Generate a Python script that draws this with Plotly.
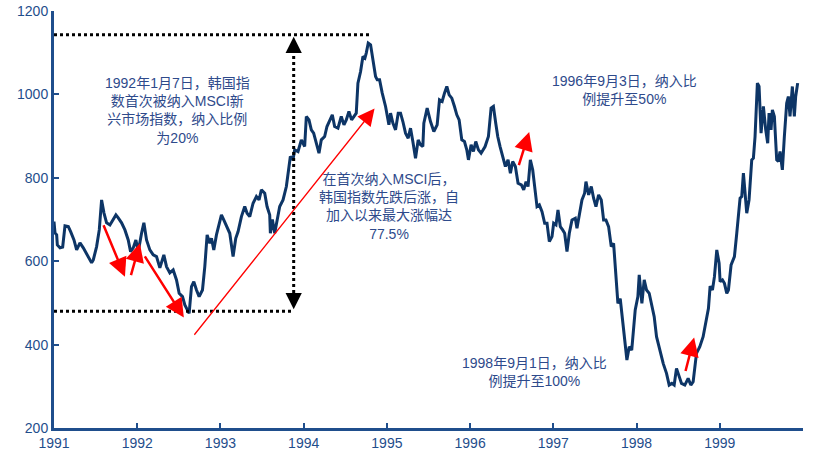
import plotly.graph_objects as go

# KOSPI (decimal year, index level)
years = [
    1991.0, 1991.012, 1991.032, 1991.04, 1991.072, 1991.104, 1991.132, 1991.172, 1991.2, 1991.24,
    1991.272, 1991.312, 1991.352, 1991.384, 1991.412, 1991.452, 1991.472, 1991.512, 1991.544, 1991.572,
    1991.6, 1991.632, 1991.672, 1991.712, 1991.744, 1991.772, 1991.812, 1991.852, 1991.892, 1991.92,
    1991.952, 1991.984, 1992.012, 1992.052, 1992.08, 1992.112, 1992.152, 1992.192, 1992.232, 1992.272,
    1992.32, 1992.352, 1992.392, 1992.432, 1992.472, 1992.504, 1992.544, 1992.572, 1992.6, 1992.624,
    1992.652, 1992.68, 1992.712, 1992.744, 1992.784, 1992.812, 1992.84, 1992.872, 1992.892, 1992.92,
    1992.952, 1992.984, 1993.012, 1993.04, 1993.072, 1993.112, 1993.152, 1993.184, 1993.212, 1993.252,
    1993.292, 1993.32, 1993.352, 1993.392, 1993.432, 1993.464, 1993.492, 1993.532, 1993.56, 1993.592,
    1993.6, 1993.624, 1993.652, 1993.672, 1993.68, 1993.712, 1993.752, 1993.792, 1993.824, 1993.84,
    1993.872, 1993.892, 1993.932, 1993.972, 1994.012, 1994.032, 1994.064, 1994.092, 1994.12, 1994.152,
    1994.184, 1994.212, 1994.252, 1994.28, 1994.312, 1994.344, 1994.372, 1994.412, 1994.452, 1994.484,
    1994.512, 1994.544, 1994.576, 1994.604, 1994.632, 1994.652, 1994.684, 1994.712, 1994.736, 1994.752,
    1994.776, 1994.804, 1994.824, 1994.864, 1994.884, 1994.912, 1994.944, 1994.984, 1995.024, 1995.044,
    1995.072, 1995.104, 1995.136, 1995.164, 1995.192, 1995.224, 1995.256, 1995.284, 1995.312, 1995.344,
    1995.376, 1995.404, 1995.432, 1995.444, 1995.484, 1995.524, 1995.564, 1995.604, 1995.632, 1995.664,
    1995.692, 1995.72, 1995.748, 1995.78, 1995.812, 1995.84, 1995.868, 1995.9, 1995.932, 1995.96,
    1995.98, 1996.012, 1996.04, 1996.068, 1996.1, 1996.132, 1996.18, 1996.22, 1996.252, 1996.28,
    1996.308, 1996.332, 1996.36, 1996.392, 1996.424, 1996.456, 1996.484, 1996.512, 1996.544, 1996.576,
    1996.616, 1996.644, 1996.672, 1996.696, 1996.724, 1996.752, 1996.776, 1996.804, 1996.832, 1996.864,
    1996.896, 1996.924, 1996.952, 1996.984, 1997.004, 1997.032, 1997.056, 1997.084, 1997.112, 1997.136,
    1997.164, 1997.192, 1997.224, 1997.264, 1997.284, 1997.312, 1997.344, 1997.376, 1997.392, 1997.424,
    1997.456, 1997.484, 1997.512, 1997.544, 1997.576, 1997.604, 1997.632, 1997.664, 1997.696, 1997.724,
    1997.752, 1997.776, 1997.804, 1997.832, 1997.856, 1997.884, 1997.912, 1997.942, 1997.984, 1998.016,
    1998.032, 1998.064, 1998.092, 1998.12, 1998.152, 1998.184, 1998.212, 1998.24, 1998.28, 1998.32,
    1998.36, 1998.392, 1998.424, 1998.452, 1998.48, 1998.508, 1998.54, 1998.58, 1998.62, 1998.652,
    1998.68, 1998.72, 1998.76, 1998.8, 1998.832, 1998.864, 1998.884, 1998.912, 1998.936, 1998.964,
    1998.992, 1999.004, 1999.032, 1999.056, 1999.084, 1999.104, 1999.136, 1999.176, 1999.204, 1999.244,
    1999.264, 1999.284, 1999.304, 1999.324, 1999.352, 1999.384, 1999.404, 1999.424, 1999.452, 1999.472,
    1999.496, 1999.524, 1999.552, 1999.576, 1999.592, 1999.616, 1999.632, 1999.656, 1999.684, 1999.704,
    1999.724, 1999.752, 1999.776, 1999.804, 1999.824, 1999.844, 1999.872, 1999.896, 1999.912, 1999.936,
]
kospi = [
    695, 668, 663, 639, 632, 634, 685, 683, 671, 651,
    627, 644, 632, 620, 611, 596, 603, 635, 675, 747,
    716, 692, 687, 699, 711, 704, 692, 675, 651, 623,
    632, 651, 623, 667, 692, 651, 627, 615, 611, 584,
    615, 587, 572, 579, 555, 523, 515, 495, 483, 475,
    539, 551, 531, 515, 531, 587, 663, 643, 655, 627,
    663, 687, 711, 699, 683, 667, 611, 655, 671, 707,
    731, 715, 707, 739, 755, 747, 771, 763, 731, 711,
    667, 700, 667, 691, 700, 731, 747, 779, 827, 851,
    843, 867, 863, 891, 875, 947, 939, 915, 907, 883,
    859, 891, 899, 923, 939, 951, 923, 919, 947, 927,
    939, 959, 939, 947, 955, 1027, 1055, 1091, 1087, 1099,
    1123, 1119, 1095, 1043, 1035, 1035, 1003, 971, 927, 955,
    931, 915, 955, 955, 935, 907, 895, 919, 887, 847,
    891, 879, 875, 931, 967, 935, 911, 927, 987, 983,
    1003, 1019, 999, 991, 971, 951, 939, 891, 887, 867,
    843, 879, 863, 887, 867, 859, 875, 899, 967, 971,
    931, 899, 875, 851, 827, 843, 811, 839, 827, 787,
    783, 771, 791, 779, 843, 819, 779, 731, 735, 719,
    691, 691, 647, 659, 691, 687, 723, 683, 675, 667,
    623, 667, 699, 703, 679, 707, 747, 763, 791, 759,
    779, 751, 731, 759, 747, 699, 699, 683, 635, 643,
    571, 499, 510, 463, 411, 363, 395, 387, 483, 515,
    567, 499, 555, 531, 523, 491, 467, 419, 387, 355,
    331, 303, 307, 303, 343, 327, 307, 303, 319, 303,
    311, 379, 395, 419, 455, 487, 540, 531, 563, 627,
    595, 551, 555, 547, 523, 531, 591, 611, 667, 751,
    755, 811, 763, 715, 747, 843, 847, 899, 1027, 1019,
    907, 971, 915, 883, 955, 915, 963, 947, 843, 839,
    863, 819, 899, 979, 995, 947, 1019, 947, 995, 1027,
]

tick_years = [1991, 1992, 1993, 1994, 1995, 1996, 1997, 1998, 1999]
y_ticks = [200, 400, 600, 800, 1000, 1200]

peak_level = 1143
low_level = 480
measure_x = 1993.88

axis_blue = "#1F4E8C"
text_blue = "#2E4A8B"
navy = "#0D3566"
font_cn = "Liberation Sans, Noto Sans CJK SC, sans-serif"

fig = go.Figure()
fig.add_trace(go.Scatter(x=years, y=kospi, mode="lines",
                         line=dict(color=navy, width=3), showlegend=False,
                         hoverinfo="skip"))

# dotted guide lines
fig.add_shape(type="line", x0=1991, x1=1994.79, y0=peak_level, y1=peak_level,
              line=dict(color="black", width=3, dash="dot"))
fig.add_shape(type="line", x0=1991, x1=measure_x, y0=low_level, y1=low_level,
              line=dict(color="black", width=3, dash="dot"))
fig.add_shape(type="line", x0=measure_x, x1=measure_x, y0=low_level + 15, y1=peak_level - 15,
              line=dict(color="black", width=3, dash="dot"))

annos = []
# black arrowheads on the measuring line
for tip, tail in [(peak_level - 5, peak_level - 45), (low_level + 5, low_level + 45)]:
    annos.append(dict(x=measure_x, y=tip, ax=measure_x, ay=tail, axref="x", ayref="y",
                      xref="x", yref="y", text="", showarrow=True, arrowhead=2,
                      arrowsize=1.3, arrowwidth=2.5, arrowcolor="black", standoff=0))

# red arrows (tail -> head)
red_arrows = [
    ((1991.588, 690), (1991.852, 563), 2.5),
    ((1991.92, 563), (1992.032, 643), 2.5),
    ((1992.08, 615), (1992.56, 465), 2.5),
    ((1992.672, 420), (1994.852, 966), 1.3),
    ((1996.58, 827), (1996.71, 910), 2.5),
    ((1998.584, 333), (1998.692, 417), 2.5),
]
for (tx, ty), (hx, hy), w in red_arrows:
    annos.append(dict(x=hx, y=hy, ax=tx, ay=ty, axref="x", ayref="y", xref="x", yref="y",
                      text="", showarrow=True, arrowhead=2,
                      arrowsize=2.6 if w < 2 else 1.5, arrowwidth=w,
                      arrowcolor="#FF0000", standoff=0))

notes = [
    (1992.48, 962, "1992年1月7日，韩国指<br>数首次被纳入MSCI新<br>兴市场指数，纳入比例<br>为20%"),
    (1995.03, 730, "在首次纳入MSCI后，<br>韩国指数先跌后涨，自<br>加入以来最大涨幅达<br>77.5%"),
    (1997.85, 1010, "1996年9月3日，纳入比<br>例提升至50%"),
    (1996.77, 335, "1998年9月1日，纳入比<br>例提升至100%"),
]
for nx, ny, txt in notes:
    annos.append(dict(x=nx, y=ny, xref="x", yref="y", text=txt, showarrow=False,
                      align="center", font=dict(family=font_cn, size=14, color=text_blue)))

fig.update_layout(
    width=828, height=458,
    margin=dict(l=54, r=25, t=11, b=30),
    paper_bgcolor="white", plot_bgcolor="white",
    annotations=annos,
    xaxis=dict(range=[1991, 2000], tickvals=tick_years, ticktext=[str(t) for t in tick_years],
               automargin=False,
               showgrid=False, zeroline=False, showline=True, linecolor=axis_blue, linewidth=3,
               ticks="inside", ticklen=5, tickwidth=2, tickcolor=axis_blue,
               tickfont=dict(family="Liberation Sans, Arial", size=14, color=axis_blue)),
    yaxis=dict(range=[200, 1200], tickvals=y_ticks, automargin=False,
               showgrid=False, zeroline=False,
               showline=True, linecolor=axis_blue, linewidth=3,
               ticks="inside", ticklen=5, tickwidth=2, tickcolor=axis_blue,
               tickfont=dict(family="Liberation Sans, Arial", size=14, color=axis_blue)),
)

# drop the page's default body margin so the chart sits at the window's corner
fig.write_html("out.html", config={"displayModeBar": False},
               post_script="document.body.style.margin='0';")
